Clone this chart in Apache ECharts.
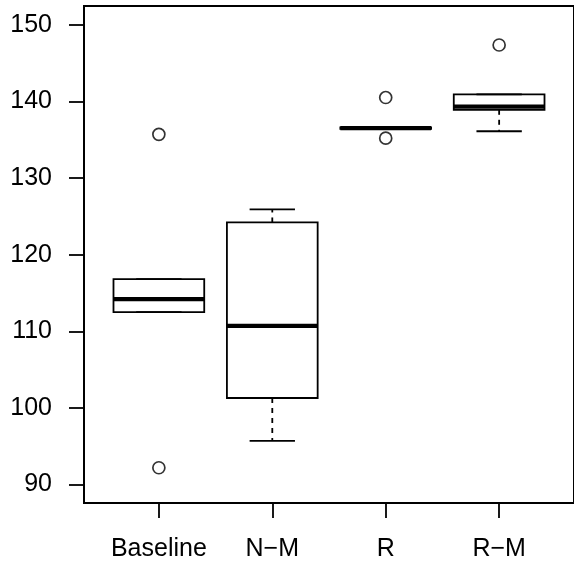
<!DOCTYPE html>
<html>
<head>
<meta charset="utf-8">
<script src="https://cdn.jsdelivr.net/npm/echarts@6/dist/echarts.min.js"></script>
<style>
html,body{margin:0;padding:0;background:#fff;}
#c{width:574px;height:562px;}
</style>
</head>
<body>
<div id="c"></div>
<script>
// ---- data ----
var categories = ['Baseline', 'N\u2212M', 'R', 'R\u2212M'];
var lowWhisker = [112.5, 95.7, 136.4, 136.1];
var q1 = [112.5, 101.3, 136.4, 138.9];
var median = [114.2, 110.7, 136.5, 139.3];
var q3 = [116.8, 124.2, 136.6, 140.9];
var highWhisker = [116.8, 125.9, 136.6, 140.9];
var outlierGroup = [1, 1, 3, 3, 4];
var outlierValue = [135.7, 92.2, 140.5, 135.2, 147.35];
var yTicks = [90, 100, 110, 120, 130, 140, 150];

// ---- build ----
var positions = categories.map(function (c, i) { return i + 1; });
var boxData = categories.map(function (c, i) {
  return [i + 1, lowWhisker[i], q1[i], median[i], q3[i], highWhisker[i]];
});
var outData = outlierGroup.map(function (g, i) { return [g, outlierValue[i]]; });

var FONT = '"Liberation Sans", Arial, Helvetica, sans-serif';
var chart = echarts.init(document.getElementById('c'), null, {renderer: 'canvas'});

function renderBox(params, api) {
  var x = api.value(0);
  var lo = api.coord([x, api.value(1)]);
  var b1 = api.coord([x, api.value(2)]);
  var md = api.coord([x, api.value(3)]);
  var b3 = api.coord([x, api.value(4)]);
  var hi = api.coord([x, api.value(5)]);
  var half = api.size([0.4, 0])[0];
  var cap = half / 2;
  var cx = lo[0];
  var thin = {stroke: '#000', lineWidth: 1.8, fill: null};
  var dashed = {stroke: '#000', lineWidth: 1.8, lineDash: [5, 5], fill: null};
  return {
    type: 'group',
    children: [
      {type: 'line', shape: {x1: cx, y1: b1[1], x2: cx, y2: lo[1]}, style: dashed},
      {type: 'line', shape: {x1: cx, y1: b3[1], x2: cx, y2: hi[1]}, style: dashed},
      {type: 'line', shape: {x1: cx - cap, y1: lo[1], x2: cx + cap, y2: lo[1]}, style: thin},
      {type: 'line', shape: {x1: cx - cap, y1: hi[1], x2: cx + cap, y2: hi[1]}, style: thin},
      {type: 'rect', shape: {x: cx - half, y: b3[1], width: 2 * half, height: b1[1] - b3[1]}, style: thin},
      {type: 'line', shape: {x1: cx - half, y1: md[1], x2: cx + half, y2: md[1]}, style: {stroke: '#000', lineWidth: 4.2}}
    ]
  };
}

chart.setOption({
  animation: false,
  backgroundColor: '#fff',
  grid: {left: 84, top: 6, width: 497, height: 497, show: true, borderColor: '#000', borderWidth: 2, backgroundColor: 'transparent'},
  xAxis: {
    type: 'value', min: 0.34, max: 4.66,
    axisLine: {show: false},
    splitLine: {show: false},
    axisTick: {show: true, length: 15, customValues: positions, lineStyle: {color: '#000', width: 1.8}},
    axisLabel: {
      customValues: positions, margin: 34, color: '#000', fontSize: 25, fontFamily: FONT,
      formatter: function (v) { return categories[Math.round(v) - 1] || ''; }
    }
  },
  yAxis: {
    type: 'value', min: 87.6, max: 152.44,
    axisLine: {show: false},
    splitLine: {show: false},
    axisTick: {show: true, length: 15, customValues: yTicks, lineStyle: {color: '#000', width: 1.8}},
    axisLabel: {customValues: yTicks, margin: 32, color: '#000', fontSize: 25, fontFamily: FONT, padding: [6, 0, 0, 0]}
  },
  series: [
    {type: 'custom', renderItem: renderBox, data: boxData, encode: {x: 0, y: [1, 2, 3, 4, 5]}, clip: false, z: 2},
    {type: 'scatter', data: outData, symbol: 'circle', symbolSize: 12,
     itemStyle: {color: 'rgba(0,0,0,0)', borderColor: '#000', borderWidth: 1.7}, z: 3}
  ]
});
</script>
</body>
</html>
